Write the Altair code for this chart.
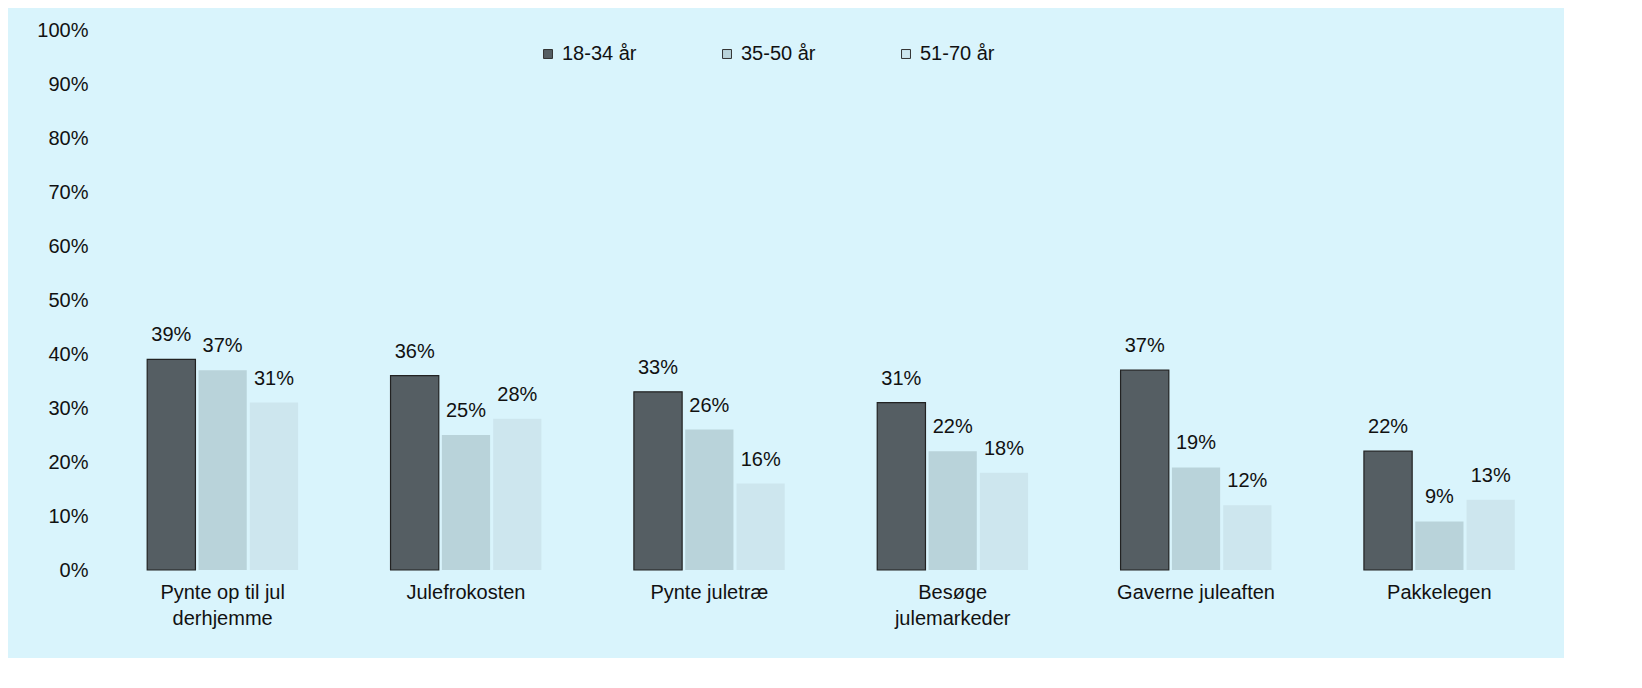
import altair as alt
import pandas as pd

categories = ["Pynte op til jul\nderhjemme", "Julefrokosten", "Pynte juletræ",
              "Besøge\njulemarkeder", "Gaverne juleaften", "Pakkelegen"]
groups = ["18-34 år", "35-50 år", "51-70 år"]
v1834 = [39, 36, 33, 31, 37, 22]
v3550 = [37, 25, 26, 22, 19, 9]
v5170 = [31, 28, 16, 18, 12, 13]

rows = []
for i, c in enumerate(categories):
    for g, vals in zip(groups, [v1834, v3550, v5170]):
        rows.append({"cat": c, "grp": g, "val": vals[i] / 100, "lab": f"{vals[i]}%"})
df = pd.DataFrame(rows)

font = "Liberation Sans"
colors = ["#555e63", "#b9d3da", "#cde6ee"]

base = alt.Chart(df).encode(
    x=alt.X("cat:N", sort=categories, title=None,
            scale=alt.Scale(paddingInner=0.38, paddingOuter=0.12),
            axis=alt.Axis(labelAngle=0, labelFontSize=20, labelFont=font, labelColor="#111",
                          labelExpr="split(datum.label, '\\n')", labelLineHeight=26,
                          ticks=False, domain=False, labelPadding=12)),
    xOffset=alt.XOffset("grp:N", sort=groups, scale=alt.Scale(paddingInner=0.06)),
)

bars = base.mark_bar().encode(
    y=alt.Y("val:Q", title=None, scale=alt.Scale(domain=[0, 1]),
            axis=alt.Axis(format="%", values=[i / 10 for i in range(11)], labelFontSize=20,
                          labelFont=font, labelColor="#111", grid=False, domain=False,
                          ticks=False, labelPadding=30)),
    color=alt.Color("grp:N", sort=groups, scale=alt.Scale(domain=groups, range=colors),
                    legend=alt.Legend(title=None, orient="none", legendX=420, legendY=14,
                                      direction="horizontal", symbolType="square",
                                      symbolSize=80, labelFontSize=20, labelFont=font,
                                      labelColor="#111", columnPadding=80,
                                      symbolStrokeColor="#333", symbolStrokeWidth=1)),
    stroke=alt.condition(alt.datum.grp == "18-34 år", alt.value("#222"), alt.value(None)),
    strokeWidth=alt.value(1.2),
)

text = base.mark_text(baseline="bottom", dy=-14, fontSize=20, font=font, color="#111").encode(
    y="val:Q", text="lab:N")

chart = (bars + text).properties(
    width=1556, height=650, background="#d9f4fc",
    autosize=alt.AutoSizeParams(type="fit", contains="padding"),
    padding={"left": 28, "top": 12, "right": 20, "bottom": 30},
).configure_view(stroke=None)

chart.save("out.html", embed_options={"renderer": "svg", "actions": False})
